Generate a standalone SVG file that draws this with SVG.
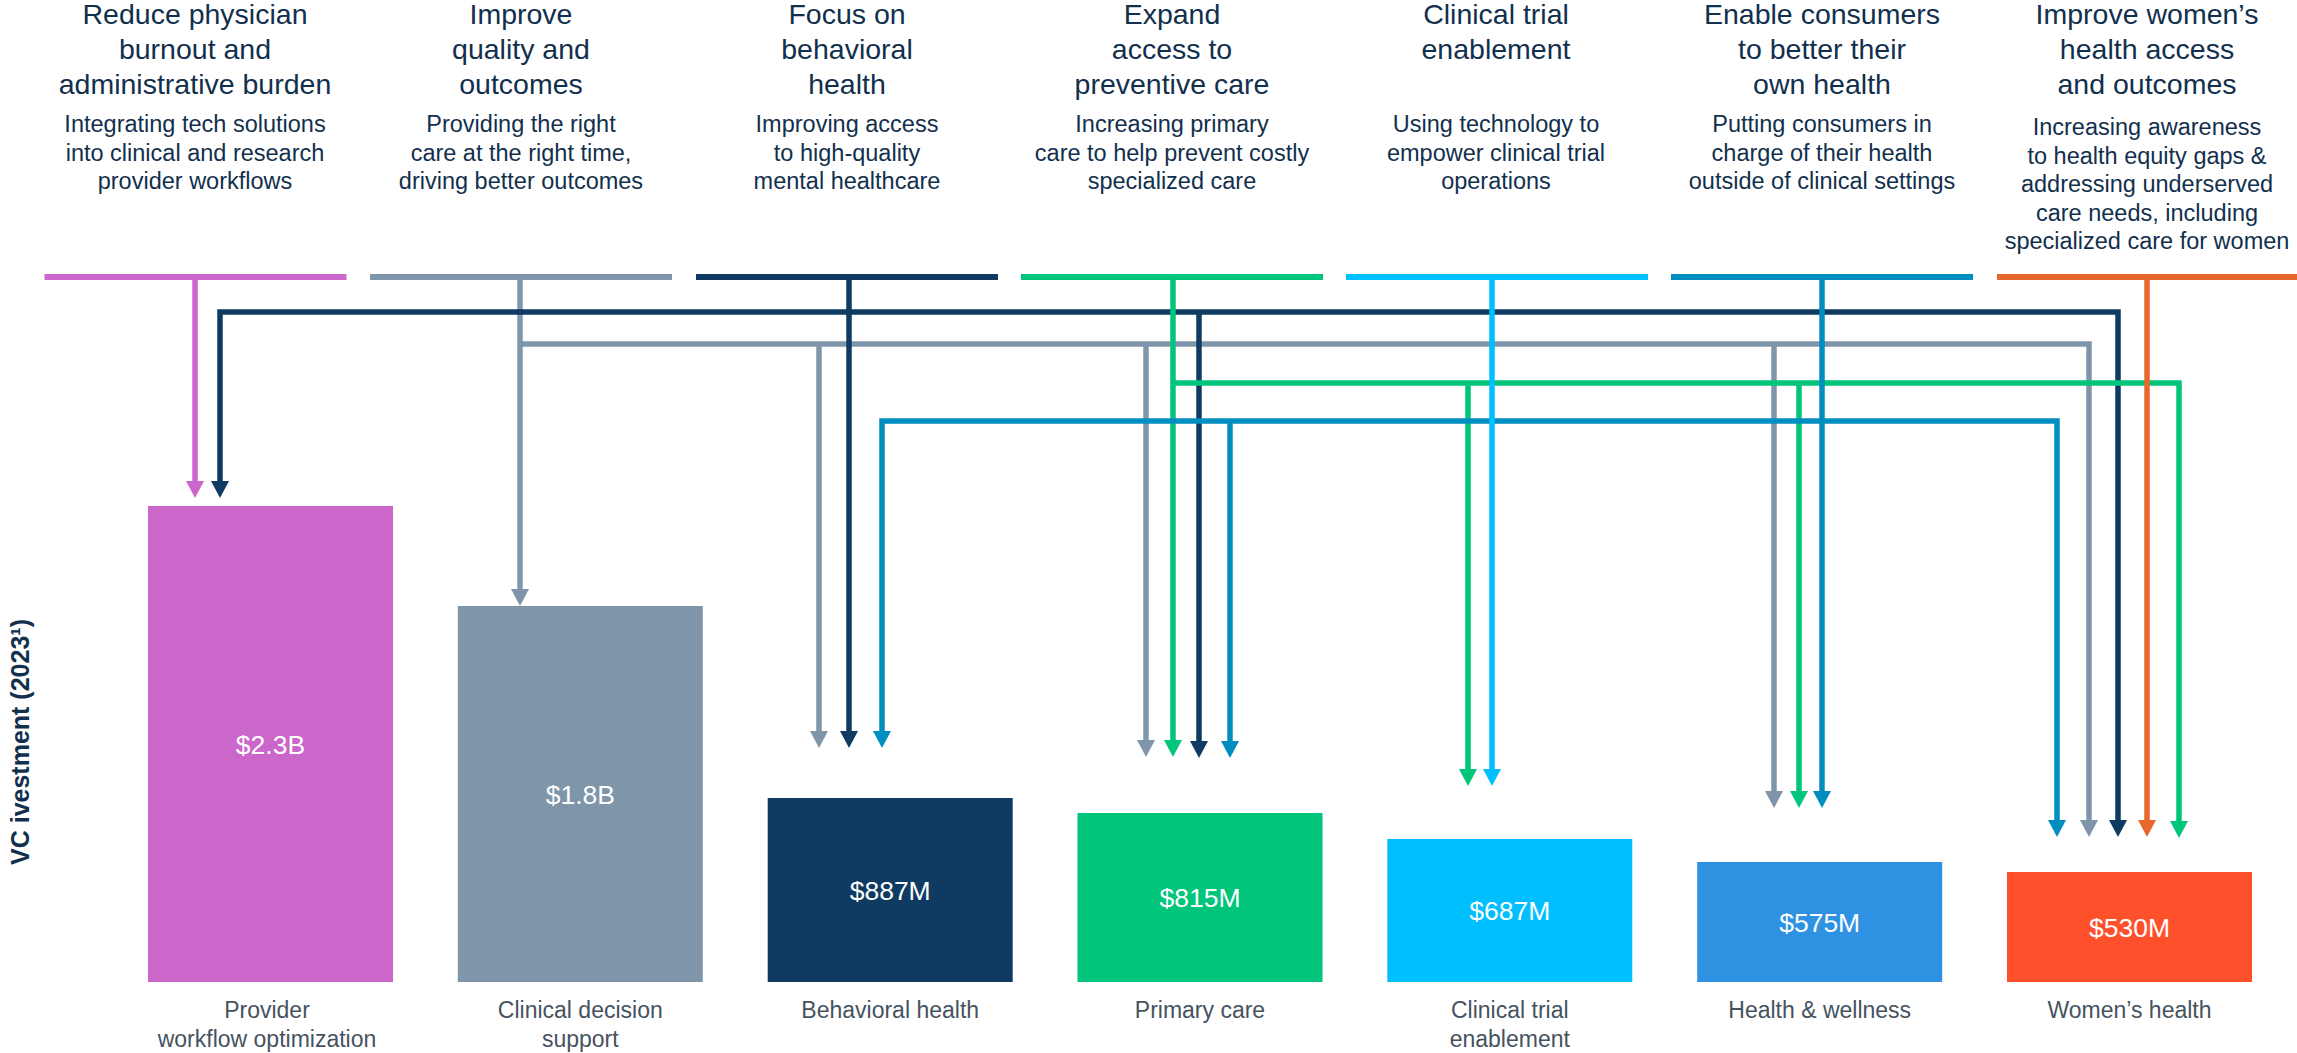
<svg xmlns="http://www.w3.org/2000/svg" width="2297" height="1053" viewBox="0 0 2297 1053">
<style>
.t{font-family:"Liberation Sans",Arial,sans-serif;font-size:28.5px;fill:#12304d;text-anchor:middle}
.s{font-family:"Liberation Sans",Arial,sans-serif;font-size:23.5px;fill:#12304d;text-anchor:middle}
.v{font-family:"Liberation Sans",Arial,sans-serif;font-size:26.5px;fill:#ffffff;text-anchor:middle}
.c{font-family:"Liberation Sans",Arial,sans-serif;font-size:23px;fill:#45535f;text-anchor:middle}
.ax{font-family:"Liberation Sans",Arial,sans-serif;font-size:25px;font-weight:bold;fill:#12304d;text-anchor:middle}
.ln{fill:none;stroke-width:5.5;stroke-linejoin:miter}
</style>
<defs>
<marker id="aPink" markerUnits="userSpaceOnUse" markerWidth="17" markerHeight="18" viewBox="0 0 17 18" refX="0" refY="9" orient="auto"><path d="M0,0L17,9L0,18z" fill="#cc66cc"/></marker>
<marker id="aGray" markerUnits="userSpaceOnUse" markerWidth="17" markerHeight="18" viewBox="0 0 17 18" refX="0" refY="9" orient="auto"><path d="M0,0L17,9L0,18z" fill="#7f96aa"/></marker>
<marker id="aNavy" markerUnits="userSpaceOnUse" markerWidth="17" markerHeight="18" viewBox="0 0 17 18" refX="0" refY="9" orient="auto"><path d="M0,0L17,9L0,18z" fill="#0f3b62"/></marker>
<marker id="aGreen" markerUnits="userSpaceOnUse" markerWidth="17" markerHeight="18" viewBox="0 0 17 18" refX="0" refY="9" orient="auto"><path d="M0,0L17,9L0,18z" fill="#00c57a"/></marker>
<marker id="aCyan" markerUnits="userSpaceOnUse" markerWidth="17" markerHeight="18" viewBox="0 0 17 18" refX="0" refY="9" orient="auto"><path d="M0,0L17,9L0,18z" fill="#00bfff"/></marker>
<marker id="aBlue" markerUnits="userSpaceOnUse" markerWidth="17" markerHeight="18" viewBox="0 0 17 18" refX="0" refY="9" orient="auto"><path d="M0,0L17,9L0,18z" fill="#008ec0"/></marker>
<marker id="aOrange" markerUnits="userSpaceOnUse" markerWidth="17" markerHeight="18" viewBox="0 0 17 18" refX="0" refY="9" orient="auto"><path d="M0,0L17,9L0,18z" fill="#e8672a"/></marker>
</defs>
<rect width="2297" height="1053" fill="#ffffff"/>

<g id="header-burnout">
<text class="t" x="195" y="24">Reduce physician</text>
<text class="t" x="195" y="59">burnout and</text>
<text class="t" x="195" y="94">administrative burden</text>
<text class="s" x="195" y="132">Integrating tech solutions</text>
<text class="s" x="195" y="160.5">into clinical and research</text>
<text class="s" x="195" y="189">provider workflows</text>
<rect x="44.5" y="274" width="302" height="6" fill="#cc66cc"/>
</g>
<g id="header-quality">
<text class="t" x="521" y="24">Improve</text>
<text class="t" x="521" y="59">quality and</text>
<text class="t" x="521" y="94">outcomes</text>
<text class="s" x="521" y="132">Providing the right</text>
<text class="s" x="521" y="160.5">care at the right time,</text>
<text class="s" x="521" y="189">driving better outcomes</text>
<rect x="370" y="274" width="302" height="6" fill="#7f96aa"/>
</g>
<g id="header-behavioral">
<text class="t" x="847" y="24">Focus on</text>
<text class="t" x="847" y="59">behavioral</text>
<text class="t" x="847" y="94">health</text>
<text class="s" x="847" y="132">Improving access</text>
<text class="s" x="847" y="160.5">to high-quality</text>
<text class="s" x="847" y="189">mental healthcare</text>
<rect x="696" y="274" width="302" height="6" fill="#0f3b62"/>
</g>
<g id="header-preventive">
<text class="t" x="1172" y="24">Expand</text>
<text class="t" x="1172" y="59">access to</text>
<text class="t" x="1172" y="94">preventive care</text>
<text class="s" x="1172" y="132">Increasing primary</text>
<text class="s" x="1172" y="160.5">care to help prevent costly</text>
<text class="s" x="1172" y="189">specialized care</text>
<rect x="1021" y="274" width="302" height="6" fill="#00c57a"/>
</g>
<g id="header-trial">
<text class="t" x="1496" y="24">Clinical trial</text>
<text class="t" x="1496" y="59">enablement</text>
<text class="s" x="1496" y="132">Using technology to</text>
<text class="s" x="1496" y="160.5">empower clinical trial</text>
<text class="s" x="1496" y="189">operations</text>
<rect x="1346" y="274" width="302" height="6" fill="#00bfff"/>
</g>
<g id="header-consumers">
<text class="t" x="1822" y="24">Enable consumers</text>
<text class="t" x="1822" y="59">to better their</text>
<text class="t" x="1822" y="94">own health</text>
<text class="s" x="1822" y="132">Putting consumers in</text>
<text class="s" x="1822" y="160.5">charge of their health</text>
<text class="s" x="1822" y="189">outside of clinical settings</text>
<rect x="1671" y="274" width="302" height="6" fill="#008ec0"/>
</g>
<g id="header-women">
<text class="t" x="2147" y="24">Improve women’s</text>
<text class="t" x="2147" y="59">health access</text>
<text class="t" x="2147" y="94">and outcomes</text>
<text class="s" x="2147" y="135">Increasing awareness</text>
<text class="s" x="2147" y="163.5">to health equity gaps &amp;</text>
<text class="s" x="2147" y="192">addressing underserved</text>
<text class="s" x="2147" y="220.5">care needs, including</text>
<text class="s" x="2147" y="249">specialized care for women</text>
<rect x="1997" y="274" width="300" height="6" fill="#e8672a"/>
</g>

<g id="connectors">
<path class="ln" stroke="#7f96aa" d="M520,344H2089V820" marker-end="url(#aGray)"/>
<path class="ln" stroke="#7f96aa" d="M520,277V589" marker-end="url(#aGray)"/>
<path class="ln" stroke="#7f96aa" d="M819,344V731" marker-end="url(#aGray)"/>
<path class="ln" stroke="#7f96aa" d="M1146,344V740" marker-end="url(#aGray)"/>
<path class="ln" stroke="#7f96aa" d="M1774,344V791" marker-end="url(#aGray)"/>
<path class="ln" stroke="#0f3b62" d="M849,312H220V481" marker-end="url(#aNavy)"/>
<path class="ln" stroke="#0f3b62" d="M849,312H2118V820" marker-end="url(#aNavy)"/>
<path class="ln" stroke="#0f3b62" d="M849,277V731" marker-end="url(#aNavy)"/>
<path class="ln" stroke="#0f3b62" d="M1199,312V741" marker-end="url(#aNavy)"/>
<path class="ln" stroke="#00c57a" d="M1173,383H2179V821" marker-end="url(#aGreen)"/>
<path class="ln" stroke="#00c57a" d="M1173,277V740" marker-end="url(#aGreen)"/>
<path class="ln" stroke="#00c57a" d="M1468,383V769" marker-end="url(#aGreen)"/>
<path class="ln" stroke="#00c57a" d="M1799,383V791" marker-end="url(#aGreen)"/>
<path class="ln" stroke="#008ec0" d="M1822,421H882V731" marker-end="url(#aBlue)"/>
<path class="ln" stroke="#008ec0" d="M1822,421H2057V820" marker-end="url(#aBlue)"/>
<path class="ln" stroke="#008ec0" d="M1822,277V791" marker-end="url(#aBlue)"/>
<path class="ln" stroke="#008ec0" d="M1230,421V741" marker-end="url(#aBlue)"/>
<path class="ln" stroke="#00bfff" d="M1492,277V769" marker-end="url(#aCyan)"/>
<path class="ln" stroke="#e8672a" d="M2147,277V820" marker-end="url(#aOrange)"/>
<path class="ln" stroke="#cc66cc" d="M195,277V481" marker-end="url(#aPink)"/>
</g>

<g id="bar-provider">
<rect x="148" y="506" width="245" height="476" fill="#cb66cb"/>
<text class="v" x="270.5" y="753.5">$2.3B</text>
<text class="c" x="267" y="1018">Provider</text>
<text class="c" x="267" y="1047">workflow optimization</text>
</g>
<g id="bar-decision">
<rect x="457.8" y="606" width="245" height="376" fill="#7f96aa"/>
<text class="v" x="580.3" y="803.5">$1.8B</text>
<text class="c" x="580.3" y="1018">Clinical decision</text>
<text class="c" x="580.3" y="1047">support</text>
</g>
<g id="bar-behavioral">
<rect x="767.7" y="798" width="245" height="184" fill="#0f3b62"/>
<text class="v" x="890.2" y="899.5">$887M</text>
<text class="c" x="890.2" y="1018">Behavioral health</text>
</g>
<g id="bar-primary">
<rect x="1077.5" y="813" width="245" height="169" fill="#00c57a"/>
<text class="v" x="1200" y="907">$815M</text>
<text class="c" x="1200" y="1018">Primary care</text>
</g>
<g id="bar-trial">
<rect x="1387.3" y="839" width="245" height="143" fill="#00bfff"/>
<text class="v" x="1509.8" y="920">$687M</text>
<text class="c" x="1509.8" y="1018">Clinical trial</text>
<text class="c" x="1509.8" y="1047">enablement</text>
</g>
<g id="bar-wellness">
<rect x="1697.2" y="862" width="245" height="120" fill="#2e91e2"/>
<text class="v" x="1819.7" y="932">$575M</text>
<text class="c" x="1819.7" y="1018">Health &amp; wellness</text>
</g>
<g id="bar-women">
<rect x="2007" y="872" width="245" height="110" fill="#ff502c"/>
<text class="v" x="2129.5" y="937">$530M</text>
<text class="c" x="2129.5" y="1018">Women’s health</text>
</g>

<g id="axis-label">
<text class="ax" transform="translate(29,742) rotate(-90)">VC ivestment (2023¹)</text>
</g>
</svg>
